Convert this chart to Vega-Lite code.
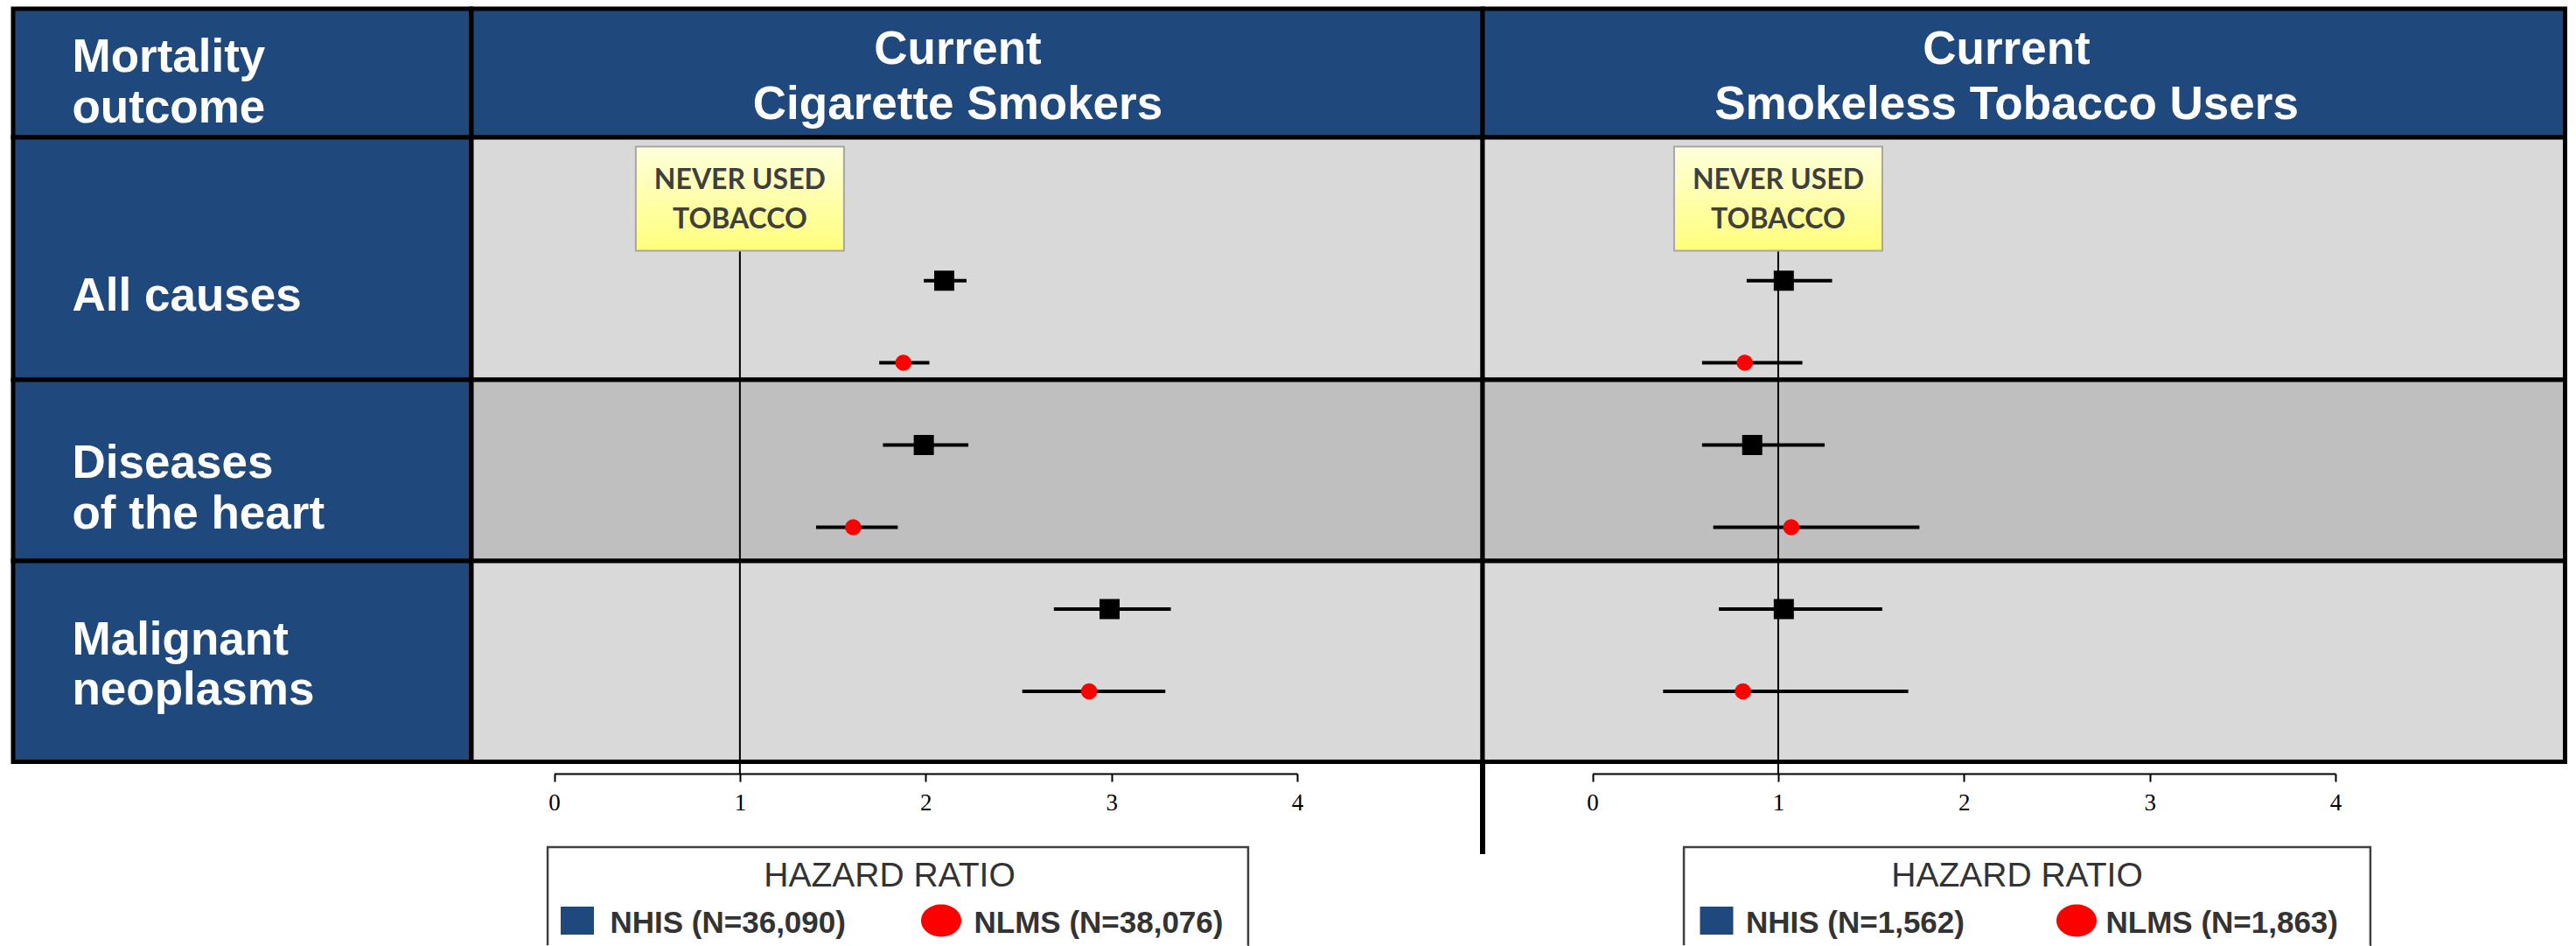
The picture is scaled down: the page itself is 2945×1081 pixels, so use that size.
{
  "$schema": "https://vega.github.io/schema/vega-lite/v6.json",
  "background": "white",
  "padding": {"left": 12, "top": 7, "right": 0, "bottom": 0},
  "spacing": 0,
  "bounds": "flush",
  "columns": 3,
  "config": {"view": {"stroke": null}, "font": "Liberation Sans"},
  "datasets": {
    "hr": [
      {"panel": "cig", "outcome": "All causes", "survey": "NHIS", "hr": 2.10, "lo": 1.99, "hi": 2.22},
      {"panel": "cig", "outcome": "All causes", "survey": "NLMS", "hr": 1.88, "lo": 1.75, "hi": 2.02},
      {"panel": "cig", "outcome": "Diseases of the heart", "survey": "NHIS", "hr": 1.99, "lo": 1.77, "hi": 2.23},
      {"panel": "cig", "outcome": "Diseases of the heart", "survey": "NLMS", "hr": 1.61, "lo": 1.41, "hi": 1.85},
      {"panel": "cig", "outcome": "Malignant neoplasms", "survey": "NHIS", "hr": 2.99, "lo": 2.69, "hi": 3.32},
      {"panel": "cig", "outcome": "Malignant neoplasms", "survey": "NLMS", "hr": 2.88, "lo": 2.52, "hi": 3.29},
      {"panel": "slt", "outcome": "All causes", "survey": "NHIS", "hr": 1.03, "lo": 0.83, "hi": 1.29},
      {"panel": "slt", "outcome": "All causes", "survey": "NLMS", "hr": 0.82, "lo": 0.59, "hi": 1.13},
      {"panel": "slt", "outcome": "Diseases of the heart", "survey": "NHIS", "hr": 0.86, "lo": 0.59, "hi": 1.25},
      {"panel": "slt", "outcome": "Diseases of the heart", "survey": "NLMS", "hr": 1.07, "lo": 0.65, "hi": 1.76},
      {"panel": "slt", "outcome": "Malignant neoplasms", "survey": "NHIS", "hr": 1.03, "lo": 0.68, "hi": 1.56},
      {"panel": "slt", "outcome": "Malignant neoplasms", "survey": "NLMS", "hr": 0.81, "lo": 0.38, "hi": 1.70}
    ],
    "ref": [{"ref": 1, "label": "NEVER USED\nTOBACCO"}],
    "headers": [
      {"column": "label", "text": "Mortality\noutcome"},
      {"column": "cig", "text": "Current\nCigarette Smokers"},
      {"column": "slt", "text": "Current\nSmokeless Tobacco Users"}
    ],
    "outcomes": [
      {"outcome": "All causes", "label": "All causes"},
      {"outcome": "Diseases of the heart", "label": "Diseases\nof the heart"},
      {"outcome": "Malignant neoplasms", "label": "Malignant\nneoplasms"}
    ],
    "legend": [
      {"panel": "cig", "survey": "NHIS", "label": "NHIS (N=36,090)"},
      {"panel": "cig", "survey": "NLMS", "label": "NLMS (N=38,076)"},
      {"panel": "slt", "survey": "NHIS", "label": "NHIS (N=1,562)"},
      {"panel": "slt", "survey": "NLMS", "label": "NLMS (N=1,863)"}
    ],
    "legendBox": [
      {"panel": "cig", "left": -0.035, "right": 3.736, "title": "HAZARD RATIO"},
      {"panel": "slt", "left": 0.492, "right": 4.188, "title": "HAZARD RATIO"}
    ],
    "blank": [{}]
  },
  "concat": [
    {"width": 523.5, "height": 147, "view": {"fill": "#1F497D", "stroke": "black", "strokeWidth": 5},
     "data": {"name": "headers"}, "transform": [{"filter": "datum.column === 'label'"}],
     "mark": {"type": "text", "align": "left", "baseline": "middle", "dx": -194.25, "dy": -18, "fontSize": 53, "fontWeight": "bold", "color": "white", "lineBreak": "\n", "lineHeight": 58},
     "encoding": {"text": {"field": "text"}}},
    {"width": 1156, "height": 147, "view": {"fill": "#1F497D", "stroke": "black", "strokeWidth": 5},
     "data": {"name": "headers"}, "transform": [{"filter": "datum.column === 'cig'"}],
     "mark": {"type": "text", "align": "center", "baseline": "middle", "dx": -22, "dy": -27, "fontSize": 53, "fontWeight": "bold", "color": "white", "lineBreak": "\n", "lineHeight": 63},
     "encoding": {"text": {"field": "text"}}},
    {"width": 1237.5, "height": 147, "view": {"fill": "#1F497D", "stroke": "black", "strokeWidth": 5},
     "data": {"name": "headers"}, "transform": [{"filter": "datum.column === 'slt'"}],
     "mark": {"type": "text", "align": "center", "baseline": "middle", "dx": -19.75, "dy": -27, "fontSize": 53, "fontWeight": "bold", "color": "white", "lineBreak": "\n", "lineHeight": 63},
     "encoding": {"text": {"field": "text"}}},

    {"width": 523.5, "height": 277, "view": {"fill": "#1F497D", "stroke": "black", "strokeWidth": 5},
     "data": {"name": "outcomes"}, "transform": [{"filter": "datum.outcome === 'All causes'"}],
     "mark": {"type": "text", "align": "left", "baseline": "middle", "dx": -194.25, "dy": 43, "fontSize": 53, "fontWeight": "bold", "color": "white", "lineBreak": "\n", "lineHeight": 57.7},
     "encoding": {"text": {"field": "label"}}},
    {"width": 1156, "height": 277, "view": {"fill": "#D9D9D9", "stroke": "black", "strokeWidth": 5},
     "layer": [
       {"data": {"name": "ref"}, "mark": {"type": "rule", "color": "black", "strokeWidth": 2},
        "encoding": {"x": {"field": "ref", "type": "quantitative", "scale": {"domain": [0, 4], "range": [94.5, 944], "nice": false, "zero": false}, "axis": null},
                     "y": {"datum": "NEVER USED TOBACCO", "type": "nominal", "scale": {"type": "point", "domain": ["NEVER USED TOBACCO", "NHIS", "NLMS"], "range": [70, 257.5], "padding": 0}, "axis": null},
                     "y2": {"value": "height"}}},
       {"data": {"name": "hr"}, "transform": [{"filter": "datum.panel === 'cig' && datum.outcome === 'All causes'"}],
        "mark": {"type": "rule", "color": "black", "strokeWidth": 4},
        "encoding": {"x": {"field": "lo", "type": "quantitative", "axis": null}, "x2": {"field": "hi"}, "y": {"field": "survey", "type": "nominal", "axis": null}}},
       {"data": {"name": "hr"}, "transform": [{"filter": "datum.panel === 'cig' && datum.outcome === 'All causes' && datum.survey === 'NHIS'"}],
        "mark": {"type": "point", "shape": "square", "filled": true, "color": "black", "size": 529, "opacity": 1},
        "encoding": {"x": {"field": "hr", "type": "quantitative", "axis": null}, "y": {"field": "survey", "type": "nominal", "axis": null}}},
       {"data": {"name": "hr"}, "transform": [{"filter": "datum.panel === 'cig' && datum.outcome === 'All causes' && datum.survey === 'NLMS'"}],
        "mark": {"type": "point", "shape": "circle", "filled": true, "color": "#FF0000", "size": 346, "opacity": 1},
        "encoding": {"x": {"field": "hr", "type": "quantitative", "axis": null}, "y": {"field": "survey", "type": "nominal", "axis": null}}},
       {"data": {"name": "ref"},
        "mark": {"type": "point", "shape": "M-1,-0.5L1,-0.5L1,0.5L-1,0.5Z", "size": 56644, "filled": true, "opacity": 1, "stroke": "#A6A6A6", "strokeWidth": 2,
                 "fill": {"gradient": "linear", "x1": 0, "y1": 0, "x2": 0, "y2": 1, "stops": [{"offset": 0, "color": "#FFFFDC"}, {"offset": 1, "color": "#FFFF7C"}]}},
        "encoding": {"x": {"field": "ref", "type": "quantitative", "axis": null}, "y": {"datum": "NEVER USED TOBACCO", "type": "nominal", "axis": null}}},
       {"data": {"name": "ref"},
        "mark": {"type": "text", "font": "Lato", "fontWeight": "bold", "fontSize": 32, "color": "#3F3F3F", "lineBreak": "\n", "lineHeight": 45, "align": "center", "baseline": "middle", "dy": -21},
        "encoding": {"x": {"field": "ref", "type": "quantitative", "axis": null}, "y": {"datum": "NEVER USED TOBACCO", "type": "nominal", "axis": null}, "text": {"field": "label"}}}
     ]},
    {"width": 1237.5, "height": 277, "view": {"fill": "#D9D9D9", "stroke": "black", "strokeWidth": 5},
     "layer": [
       {"data": {"name": "ref"}, "mark": {"type": "rule", "color": "black", "strokeWidth": 2},
        "encoding": {"x": {"field": "ref", "type": "quantitative", "scale": {"domain": [0, 4], "range": [125.6, 975], "nice": false, "zero": false}, "axis": null},
                     "y": {"datum": "NEVER USED TOBACCO", "type": "nominal", "scale": {"type": "point", "domain": ["NEVER USED TOBACCO", "NHIS", "NLMS"], "range": [70, 257.5], "padding": 0}, "axis": null},
                     "y2": {"value": "height"}}},
       {"data": {"name": "hr"}, "transform": [{"filter": "datum.panel === 'slt' && datum.outcome === 'All causes'"}],
        "mark": {"type": "rule", "color": "black", "strokeWidth": 4},
        "encoding": {"x": {"field": "lo", "type": "quantitative", "axis": null}, "x2": {"field": "hi"}, "y": {"field": "survey", "type": "nominal", "axis": null}}},
       {"data": {"name": "hr"}, "transform": [{"filter": "datum.panel === 'slt' && datum.outcome === 'All causes' && datum.survey === 'NHIS'"}],
        "mark": {"type": "point", "shape": "square", "filled": true, "color": "black", "size": 529, "opacity": 1},
        "encoding": {"x": {"field": "hr", "type": "quantitative", "axis": null}, "y": {"field": "survey", "type": "nominal", "axis": null}}},
       {"data": {"name": "hr"}, "transform": [{"filter": "datum.panel === 'slt' && datum.outcome === 'All causes' && datum.survey === 'NLMS'"}],
        "mark": {"type": "point", "shape": "circle", "filled": true, "color": "#FF0000", "size": 346, "opacity": 1},
        "encoding": {"x": {"field": "hr", "type": "quantitative", "axis": null}, "y": {"field": "survey", "type": "nominal", "axis": null}}},
       {"data": {"name": "ref"},
        "mark": {"type": "point", "shape": "M-1,-0.5L1,-0.5L1,0.5L-1,0.5Z", "size": 56644, "filled": true, "opacity": 1, "stroke": "#A6A6A6", "strokeWidth": 2,
                 "fill": {"gradient": "linear", "x1": 0, "y1": 0, "x2": 0, "y2": 1, "stops": [{"offset": 0, "color": "#FFFFDC"}, {"offset": 1, "color": "#FFFF7C"}]}},
        "encoding": {"x": {"field": "ref", "type": "quantitative", "axis": null}, "y": {"datum": "NEVER USED TOBACCO", "type": "nominal", "axis": null}}},
       {"data": {"name": "ref"},
        "mark": {"type": "text", "font": "Lato", "fontWeight": "bold", "fontSize": 32, "color": "#3F3F3F", "lineBreak": "\n", "lineHeight": 45, "align": "center", "baseline": "middle", "dy": -21},
        "encoding": {"x": {"field": "ref", "type": "quantitative", "axis": null}, "y": {"datum": "NEVER USED TOBACCO", "type": "nominal", "axis": null}, "text": {"field": "label"}}}
     ]},

    {"width": 523.5, "height": 207, "view": {"fill": "#1F497D", "stroke": "black", "strokeWidth": 5},
     "data": {"name": "outcomes"}, "transform": [{"filter": "datum.outcome === 'Diseases of the heart'"}],
     "mark": {"type": "text", "align": "left", "baseline": "middle", "dx": -194.25, "dy": -8, "fontSize": 53, "fontWeight": "bold", "color": "white", "lineBreak": "\n", "lineHeight": 58.5},
     "encoding": {"text": {"field": "label"}}},
    {"width": 1156, "height": 207, "view": {"fill": "#BFBFBF", "stroke": "black", "strokeWidth": 5},
     "layer": [
       {"data": {"name": "ref"}, "mark": {"type": "rule", "color": "black", "strokeWidth": 2},
        "encoding": {"x": {"field": "ref", "type": "quantitative", "scale": {"domain": [0, 4], "range": [94.5, 944], "nice": false, "zero": false}, "axis": null}}},
       {"data": {"name": "hr"}, "transform": [{"filter": "datum.panel === 'cig' && datum.outcome === 'Diseases of the heart'"}],
        "mark": {"type": "rule", "color": "black", "strokeWidth": 4},
        "encoding": {"x": {"field": "lo", "type": "quantitative", "axis": null}, "x2": {"field": "hi"},
                     "y": {"field": "survey", "type": "nominal", "scale": {"type": "point", "domain": ["NHIS", "NLMS"], "range": [74.5, 168.5], "padding": 0}, "axis": null}}},
       {"data": {"name": "hr"}, "transform": [{"filter": "datum.panel === 'cig' && datum.outcome === 'Diseases of the heart' && datum.survey === 'NHIS'"}],
        "mark": {"type": "point", "shape": "square", "filled": true, "color": "black", "size": 529, "opacity": 1},
        "encoding": {"x": {"field": "hr", "type": "quantitative", "axis": null}, "y": {"field": "survey", "type": "nominal", "axis": null}}},
       {"data": {"name": "hr"}, "transform": [{"filter": "datum.panel === 'cig' && datum.outcome === 'Diseases of the heart' && datum.survey === 'NLMS'"}],
        "mark": {"type": "point", "shape": "circle", "filled": true, "color": "#FF0000", "size": 346, "opacity": 1},
        "encoding": {"x": {"field": "hr", "type": "quantitative", "axis": null}, "y": {"field": "survey", "type": "nominal", "axis": null}}}
     ]},
    {"width": 1237.5, "height": 207, "view": {"fill": "#BFBFBF", "stroke": "black", "strokeWidth": 5},
     "layer": [
       {"data": {"name": "ref"}, "mark": {"type": "rule", "color": "black", "strokeWidth": 2},
        "encoding": {"x": {"field": "ref", "type": "quantitative", "scale": {"domain": [0, 4], "range": [125.6, 975], "nice": false, "zero": false}, "axis": null}}},
       {"data": {"name": "hr"}, "transform": [{"filter": "datum.panel === 'slt' && datum.outcome === 'Diseases of the heart'"}],
        "mark": {"type": "rule", "color": "black", "strokeWidth": 4},
        "encoding": {"x": {"field": "lo", "type": "quantitative", "axis": null}, "x2": {"field": "hi"},
                     "y": {"field": "survey", "type": "nominal", "scale": {"type": "point", "domain": ["NHIS", "NLMS"], "range": [74.5, 168.5], "padding": 0}, "axis": null}}},
       {"data": {"name": "hr"}, "transform": [{"filter": "datum.panel === 'slt' && datum.outcome === 'Diseases of the heart' && datum.survey === 'NHIS'"}],
        "mark": {"type": "point", "shape": "square", "filled": true, "color": "black", "size": 529, "opacity": 1},
        "encoding": {"x": {"field": "hr", "type": "quantitative", "axis": null}, "y": {"field": "survey", "type": "nominal", "axis": null}}},
       {"data": {"name": "hr"}, "transform": [{"filter": "datum.panel === 'slt' && datum.outcome === 'Diseases of the heart' && datum.survey === 'NLMS'"}],
        "mark": {"type": "point", "shape": "circle", "filled": true, "color": "#FF0000", "size": 346, "opacity": 1},
        "encoding": {"x": {"field": "hr", "type": "quantitative", "axis": null}, "y": {"field": "survey", "type": "nominal", "axis": null}}}
     ]},

    {"width": 523.5, "height": 229.5, "view": {"fill": "#1F497D", "stroke": "black", "strokeWidth": 5},
     "data": {"name": "outcomes"}, "transform": [{"filter": "datum.outcome === 'Malignant neoplasms'"}],
     "mark": {"type": "text", "align": "left", "baseline": "middle", "dx": -194.25, "dy": -24, "fontSize": 53, "fontWeight": "bold", "color": "white", "lineBreak": "\n", "lineHeight": 57.5},
     "encoding": {"text": {"field": "label"}}},
    {"width": 1156, "height": 229.5, "view": {"fill": "#D9D9D9", "stroke": "black", "strokeWidth": 5},
     "layer": [
       {"data": {"name": "ref"}, "mark": {"type": "rule", "color": "black", "strokeWidth": 2},
        "encoding": {"x": {"field": "ref", "type": "quantitative", "scale": {"domain": [0, 4], "range": [94.5, 944], "nice": false, "zero": false}, "axis": null}}},
       {"data": {"name": "hr"}, "transform": [{"filter": "datum.panel === 'cig' && datum.outcome === 'Malignant neoplasms'"}],
        "mark": {"type": "rule", "color": "black", "strokeWidth": 4},
        "encoding": {"x": {"field": "lo", "type": "quantitative", "axis": null}, "x2": {"field": "hi"},
                     "y": {"field": "survey", "type": "nominal", "scale": {"type": "point", "domain": ["NHIS", "NLMS"], "range": [55, 149], "padding": 0}, "axis": null}}},
       {"data": {"name": "hr"}, "transform": [{"filter": "datum.panel === 'cig' && datum.outcome === 'Malignant neoplasms' && datum.survey === 'NHIS'"}],
        "mark": {"type": "point", "shape": "square", "filled": true, "color": "black", "size": 529, "opacity": 1},
        "encoding": {"x": {"field": "hr", "type": "quantitative", "axis": null}, "y": {"field": "survey", "type": "nominal", "axis": null}}},
       {"data": {"name": "hr"}, "transform": [{"filter": "datum.panel === 'cig' && datum.outcome === 'Malignant neoplasms' && datum.survey === 'NLMS'"}],
        "mark": {"type": "point", "shape": "circle", "filled": true, "color": "#FF0000", "size": 346, "opacity": 1},
        "encoding": {"x": {"field": "hr", "type": "quantitative", "axis": null}, "y": {"field": "survey", "type": "nominal", "axis": null}}}
     ]},
    {"width": 1237.5, "height": 229.5, "view": {"fill": "#D9D9D9", "stroke": "black", "strokeWidth": 5},
     "layer": [
       {"data": {"name": "ref"}, "mark": {"type": "rule", "color": "black", "strokeWidth": 2},
        "encoding": {"x": {"field": "ref", "type": "quantitative", "scale": {"domain": [0, 4], "range": [125.6, 975], "nice": false, "zero": false}, "axis": null}}},
       {"data": {"name": "hr"}, "transform": [{"filter": "datum.panel === 'slt' && datum.outcome === 'Malignant neoplasms'"}],
        "mark": {"type": "rule", "color": "black", "strokeWidth": 4},
        "encoding": {"x": {"field": "lo", "type": "quantitative", "axis": null}, "x2": {"field": "hi"},
                     "y": {"field": "survey", "type": "nominal", "scale": {"type": "point", "domain": ["NHIS", "NLMS"], "range": [55, 149], "padding": 0}, "axis": null}}},
       {"data": {"name": "hr"}, "transform": [{"filter": "datum.panel === 'slt' && datum.outcome === 'Malignant neoplasms' && datum.survey === 'NHIS'"}],
        "mark": {"type": "point", "shape": "square", "filled": true, "color": "black", "size": 529, "opacity": 1},
        "encoding": {"x": {"field": "hr", "type": "quantitative", "axis": null}, "y": {"field": "survey", "type": "nominal", "axis": null}}},
       {"data": {"name": "hr"}, "transform": [{"filter": "datum.panel === 'slt' && datum.outcome === 'Malignant neoplasms' && datum.survey === 'NLMS'"}],
        "mark": {"type": "point", "shape": "circle", "filled": true, "color": "#FF0000", "size": 346, "opacity": 1},
        "encoding": {"x": {"field": "hr", "type": "quantitative", "axis": null}, "y": {"field": "survey", "type": "nominal", "axis": null}}}
     ]},

    {"width": 523.5, "height": 13, "data": {"name": "blank"}, "mark": {"type": "point", "opacity": 0}},
    {"width": 1156, "height": 13, "data": {"name": "ref"},
     "mark": {"type": "rule", "color": "black", "strokeWidth": 2},
     "encoding": {"x": {"field": "ref", "type": "quantitative", "scale": {"domain": [0, 4], "range": [94.5, 944], "nice": false, "zero": false},
                        "axis": {"orient": "bottom", "values": [0, 1, 2, 3, 4], "format": "d", "domain": true, "domainColor": "black", "domainWidth": 2, "ticks": true, "tickSize": 9, "tickWidth": 2, "tickColor": "black", "labelFont": "Liberation Serif", "labelFontSize": 27, "labelColor": "black", "labelPadding": 11, "labelFlush": false, "labelOverlap": false, "grid": false, "title": null}}}},
    {"width": 1237.5, "height": 13, "view": {"stroke": "black", "strokeWidth": 6, "strokeDash": [0, 2488, 13]}, "data": {"name": "ref"},
     "mark": {"type": "rule", "color": "black", "strokeWidth": 2},
     "encoding": {"x": {"field": "ref", "type": "quantitative", "scale": {"domain": [0, 4], "range": [125.6, 975], "nice": false, "zero": false},
                        "axis": {"orient": "bottom", "values": [0, 1, 2, 3, 4], "format": "d", "domain": true, "domainColor": "black", "domainWidth": 2, "ticks": true, "tickSize": 9, "tickWidth": 2, "tickColor": "black", "labelFont": "Liberation Serif", "labelFontSize": 27, "labelColor": "black", "labelPadding": 11, "labelFlush": false, "labelOverlap": false, "grid": false, "title": null}}}},

    {"width": 523.5, "height": 84, "data": {"name": "blank"}, "mark": {"type": "point", "opacity": 0}},
    {"width": 1156, "height": 84, "data": {"name": "blank"}, "mark": {"type": "point", "opacity": 0}},
    {"width": 1237.5, "height": 84, "view": {"stroke": "black", "strokeWidth": 6, "strokeDash": [0, 2559, 84]}, "data": {"name": "blank"}, "mark": {"type": "point", "opacity": 0}},

    {"width": 523.5, "height": 112.5, "data": {"name": "blank"}, "mark": {"type": "point", "opacity": 0}},
    {"width": 1156, "height": 112.5,
     "resolve": {"scale": {"x": "independent"}},
     "layer": [
       {"data": {"name": "legendBox"}, "transform": [{"filter": "datum.panel === 'cig'"}],
        "mark": {"type": "rect", "fill": "white", "stroke": "#404040", "strokeWidth": 2.5, "strokeDash": [913.5, 801, 112.5]},
        "encoding": {"x": {"field": "left", "type": "quantitative", "scale": {"domain": [0, 4], "range": [94.5, 944], "nice": false, "zero": false}, "axis": null}, "x2": {"field": "right"}}},
       {"data": {"name": "legendBox"}, "transform": [{"filter": "datum.panel === 'cig'"}],
        "mark": {"type": "text", "align": "center", "baseline": "middle", "fontSize": 39, "color": "#333333", "dx": -100},
        "encoding": {"text": {"field": "title"}, "y": {"datum": "title", "type": "nominal", "scale": {"type": "point", "domain": ["title", "entries"], "range": [32.6, 84], "padding": 0}, "axis": null}}},
       {"data": {"name": "legend"}, "transform": [{"filter": "datum.panel === 'cig' && datum.survey === 'NHIS'"}],
        "mark": {"type": "point", "shape": "M-1,-0.84L1,-0.84L1,0.84L-1,0.84Z", "size": 1444, "filled": true, "color": "#1F497D", "opacity": 1},
        "encoding": {"x": {"field": "survey", "type": "nominal", "scale": {"type": "point", "domain": ["NHIS", "NLMS"], "range": [121, 537], "padding": 0}, "axis": null},
                     "y": {"datum": "entries", "type": "nominal", "axis": null}}},
       {"data": {"name": "legend"}, "transform": [{"filter": "datum.panel === 'cig' && datum.survey === 'NLMS'"}],
        "mark": {"type": "point", "shape": "M-1,0A1,0.8,0,1,1,1,0A1,0.8,0,1,1,-1,0Z", "size": 2116, "filled": true, "color": "#FF0000", "opacity": 1},
        "encoding": {"x": {"field": "survey", "type": "nominal", "scale": {"type": "point", "domain": ["NHIS", "NLMS"], "range": [121, 537], "padding": 0}, "axis": null}, "y": {"datum": "entries", "type": "nominal", "axis": null}}},
       {"data": {"name": "legend"}, "transform": [{"filter": "datum.panel === 'cig'"}],
        "mark": {"type": "text", "align": "left", "baseline": "middle", "fontSize": 35, "fontWeight": "bold", "color": "#333333", "dx": 37.5, "dy": 2.5},
        "encoding": {"x": {"field": "survey", "type": "nominal", "scale": {"type": "point", "domain": ["NHIS", "NLMS"], "range": [121, 537], "padding": 0}, "axis": null}, "y": {"datum": "entries", "type": "nominal", "axis": null}, "text": {"field": "label"}}}
     ]},
    {"width": 1237.5, "height": 112.5, "view": {"stroke": "black", "strokeWidth": 6, "strokeDash": [0, 2692, 8]},
     "resolve": {"scale": {"x": "independent"}},
     "layer": [
       {"data": {"name": "legendBox"}, "transform": [{"filter": "datum.panel === 'slt'"}],
        "mark": {"type": "rect", "fill": "white", "stroke": "#404040", "strokeWidth": 2.5, "strokeDash": [897.5, 785, 112.5]},
        "encoding": {"x": {"field": "left", "type": "quantitative", "scale": {"domain": [0, 4], "range": [125.6, 975], "nice": false, "zero": false}, "axis": null}, "x2": {"field": "right"}}},
       {"data": {"name": "legendBox"}, "transform": [{"filter": "datum.panel === 'slt'"}],
        "mark": {"type": "text", "align": "center", "baseline": "middle", "fontSize": 39, "color": "#333333", "dx": -7.75},
        "encoding": {"text": {"field": "title"}, "y": {"datum": "title", "type": "nominal", "scale": {"type": "point", "domain": ["title", "entries"], "range": [32.6, 84], "padding": 0}, "axis": null}}},
       {"data": {"name": "legend"}, "transform": [{"filter": "datum.panel === 'slt' && datum.survey === 'NHIS'"}],
        "mark": {"type": "point", "shape": "M-1,-0.84L1,-0.84L1,0.84L-1,0.84Z", "size": 1444, "filled": true, "color": "#1F497D", "opacity": 1},
        "encoding": {"x": {"field": "survey", "type": "nominal", "scale": {"type": "point", "domain": ["NHIS", "NLMS"], "range": [267.5, 679], "padding": 0}, "axis": null},
                     "y": {"datum": "entries", "type": "nominal", "axis": null}}},
       {"data": {"name": "legend"}, "transform": [{"filter": "datum.panel === 'slt' && datum.survey === 'NLMS'"}],
        "mark": {"type": "point", "shape": "M-1,0A1,0.8,0,1,1,1,0A1,0.8,0,1,1,-1,0Z", "size": 2116, "filled": true, "color": "#FF0000", "opacity": 1},
        "encoding": {"x": {"field": "survey", "type": "nominal", "scale": {"type": "point", "domain": ["NHIS", "NLMS"], "range": [267.5, 679], "padding": 0}, "axis": null}, "y": {"datum": "entries", "type": "nominal", "axis": null}}},
       {"data": {"name": "legend"}, "transform": [{"filter": "datum.panel === 'slt'"}],
        "mark": {"type": "text", "align": "left", "baseline": "middle", "fontSize": 35, "fontWeight": "bold", "color": "#333333", "dx": 33.5, "dy": 2.5},
        "encoding": {"x": {"field": "survey", "type": "nominal", "scale": {"type": "point", "domain": ["NHIS", "NLMS"], "range": [267.5, 679], "padding": 0}, "axis": null}, "y": {"datum": "entries", "type": "nominal", "axis": null}, "text": {"field": "label"}}}
     ]}
  ]
}
